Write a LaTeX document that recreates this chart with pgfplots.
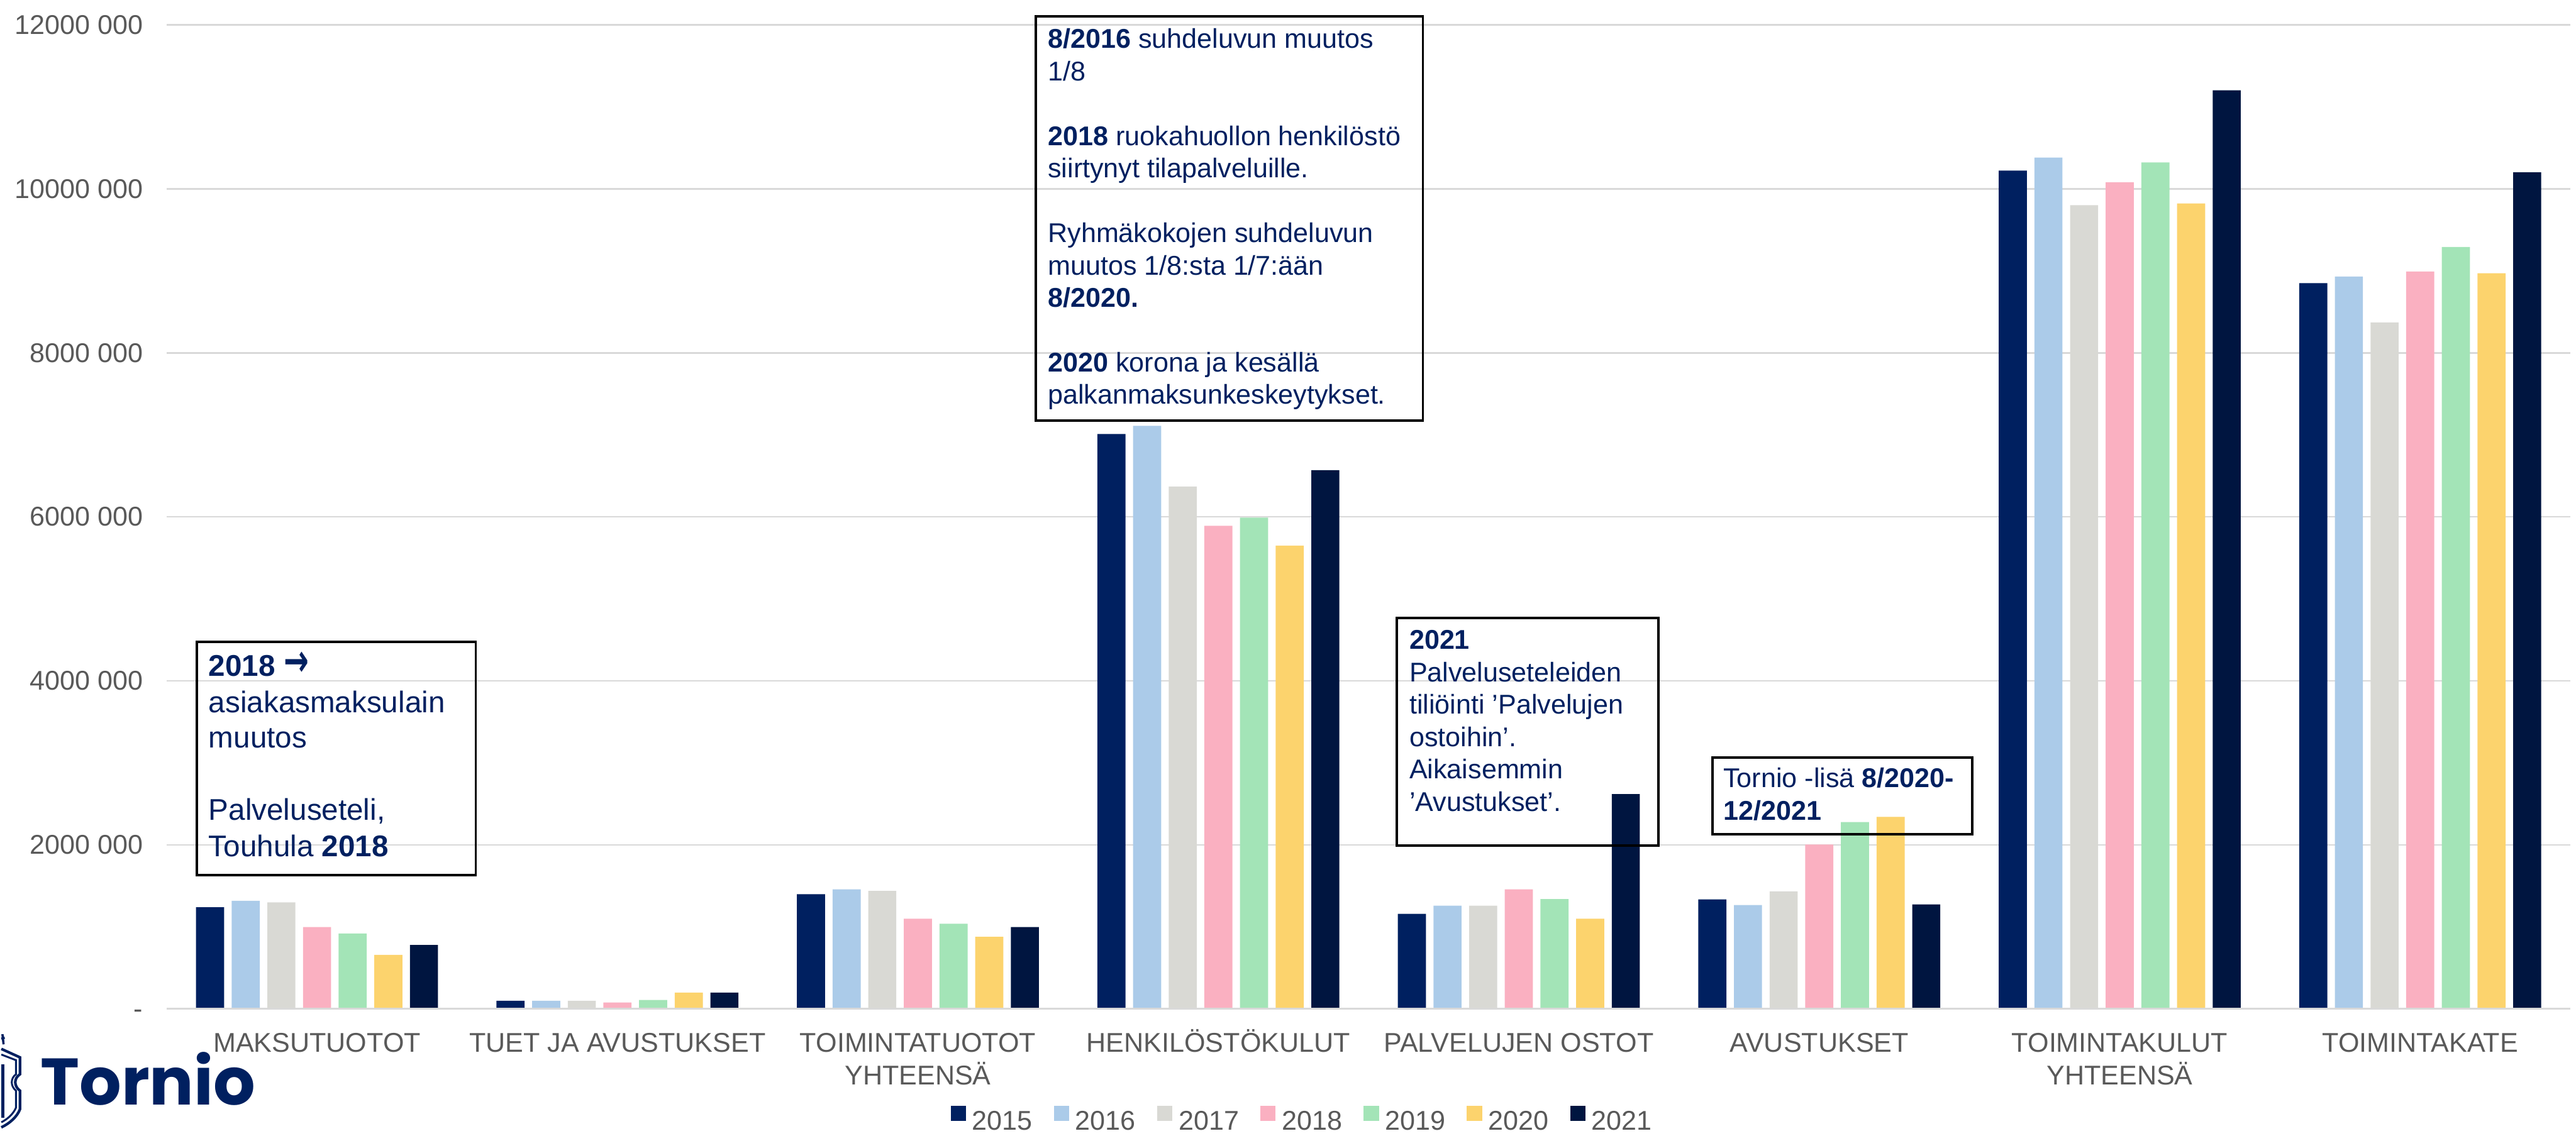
\documentclass[border=0pt]{standalone}
\usepackage{fontspec}
\setmainfont{Liberation Sans}
\newfontfamily\poppins{Poppins}
\newfontfamily\dejavu{DejaVu Sans}
\usepackage{graphicx}
\usepackage{pgfplots}
\pgfplotsset{compat=1.18}

\definecolor{c2015}{RGB}{0,32,96}
\definecolor{c2016}{RGB}{171,203,233}
\definecolor{c2017}{RGB}{217,217,212}
\definecolor{c2018}{RGB}{250,176,193}
\definecolor{c2019}{RGB}{163,228,183}
\definecolor{c2020}{RGB}{252,211,109}
\definecolor{c2021}{RGB}{0,21,64}
\definecolor{navy}{RGB}{0,32,96}
\definecolor{txtgray}{RGB}{89,89,89}
\definecolor{gridgray}{RGB}{217,217,217}

\newcommand\axfont{\fontsize{7.2}{8.7}\selectfont}
\newcommand\boxfont{\fontsize{7.2}{8.6}\selectfont\color{navy}}
\newcommand\boxfontL{\fontsize{7.95}{9.5}\selectfont\color{navy}}

\begin{document}
\begin{tikzpicture}
% picture frame in reference pixels (origin top left)
\begin{scope}[x=0.15pt,y=-0.15pt,shift={(-43.95pt,268.095pt)}]
\useasboundingbox (0,0) rectangle (4559,2009);
\end{scope}

\begin{axis}[
    at={(0,0)}, anchor=south west,
    width=638.4pt, height=261.54pt, scale only axis,
    xmin=-0.5, xmax=7.5, ymin=0, ymax=12000000,
    ybar=2.01pt, bar width=7.46pt,
    axis line style={draw=none},
    major tick length=0pt, tick style={draw=none},
    ymajorgrids, grid style={gridgray, line width=0.45pt},
    scaled y ticks=false,
    xtick={0,1,2,3,4,5,6,7},
    xticklabels={MAKSUTUOTOT, TUET JA AVUSTUKSET, TOIMINTATUOTOT\\YHTEENSÄ,
        HENKIL\smash{Ö}ST\smash{Ö}KULUT, PALVELUJEN OSTOT, AVUSTUKSET,
        TOIMINTAKULUT\\YHTEENSÄ, TOIMINTAKATE},
    xticklabel style={font=\axfont, text=txtgray, align=center, anchor=north,
        inner sep=0pt, yshift=-6.15pt},
    ytick={0,2000000,4000000,6000000,8000000,10000000,12000000},
    yticklabels={\vphantom{0}-, 2000 000, 4000 000, 6000 000, 8000 000, 10000 000, 12000 000},
    yticklabel style={font=\axfont, text=txtgray, anchor=east, inner sep=0pt, xshift=-6.15pt},
    legend columns=-1,
    legend style={at={(0.472,0)}, anchor=center, yshift=-29.65pt, draw=none,
        font=\axfont, text=txtgray, inner sep=0pt, nodes={inner sep=0pt},
        /tikz/every odd column/.append style={column sep=1.65pt},
        /tikz/every even column/.append style={column sep=5.7pt}},
    legend image code/.code={\fill[#1] (0pt,0.55pt) rectangle (4.05pt,4.6pt);},
]
\addplot[fill=c2015, draw=none] coordinates {(0,1240000) (1,100000) (2,1400000) (3,7010000) (4,1160000) (5,1337000) (6,10220000) (7,8850000)};
\addplot[fill=c2016, draw=none] coordinates {(0,1320000) (1,100000) (2,1460000) (3,7110000) (4,1260000) (5,1268000) (6,10380000) (7,8930000)};
\addplot[fill=c2017, draw=none] coordinates {(0,1300000) (1,100000) (2,1440000) (3,6370000) (4,1260000) (5,1434000) (6,9800000) (7,8370000)};
\addplot[fill=c2018, draw=none] coordinates {(0,1000000) (1,80000) (2,1100000) (3,5890000) (4,1460000) (5,2005000) (6,10080000) (7,8990000)};
\addplot[fill=c2019, draw=none] coordinates {(0,920000) (1,110000) (2,1040000) (3,5990000) (4,1340000) (5,2280000) (6,10320000) (7,9290000)};
\addplot[fill=c2020, draw=none] coordinates {(0,660000) (1,200000) (2,880000) (3,5650000) (4,1100000) (5,2342000) (6,9820000) (7,8970000)};
\addplot[fill=c2021, draw=none] coordinates {(0,780000) (1,200000) (2,1000000) (3,6570000) (4,2620000) (5,1276000) (6,11200000) (7,10200000)};
\legend{2015,2016,2017,2018,2019,2020,2021}
\draw[gridgray, line width=0.6pt] (rel axis cs:0,0) -- (rel axis cs:1,0);
\end{axis}

\begin{scope}[x=0.15pt,y=-0.15pt,shift={(-43.95pt,268.095pt)}]
% annotation boxes
\draw[line width=0.6pt] (346,1137) rectangle (840,1550);
\draw[line width=0.6pt] (1832,29) rectangle (2517,745);
\draw[line width=0.6pt] (2471,1095) rectangle (2934,1498);
\draw[line width=0.6pt] (3030,1342) rectangle (3490,1478);

\begin{scope}[every node/.style={anchor=base west, inner sep=0pt}]
\node[font=\boxfontL] at (366,1198) {\textbf{2018 {\dejavu\bfseries\scalebox{1}[1.5]{→}}}};
\node[font=\boxfontL] at (366,1262) {asiakasmaksulain};
\node[font=\boxfontL] at (366,1325) {muutos};
\node[font=\boxfontL] at (366,1453) {Palveluseteli,};
\node[font=\boxfontL] at (366,1517) {Touhula \textbf{2018}};

\node[font=\boxfont] at (1852,85.7) {\textbf{8/2016} suhdeluvun muutos};
\node[font=\boxfont] at (1852,143) {1/8};
\node[font=\boxfont] at (1852,257.6) {\textbf{2018} ruokahuollon henkilöstö};
\node[font=\boxfont] at (1852,314.9) {siirtynyt tilapalveluille.};
\node[font=\boxfont] at (1852,429.5) {Ryhmäkokojen suhdeluvun};
\node[font=\boxfont] at (1852,486.8) {muutos 1/8:sta 1/7:ään};
\node[font=\boxfont] at (1852,544.1) {\textbf{8/2020.}};
\node[font=\boxfont] at (1852,658.7) {\textbf{2020} korona ja kesällä};
\node[font=\boxfont] at (1852,716) {palkanmaksunkeskeytykset.};

\node[font=\boxfont] at (2492,1150) {\textbf{2021}};
\node[font=\boxfont] at (2492,1207.4) {Palveluseteleiden};
\node[font=\boxfont] at (2492,1264.8) {tiliöinti ’Palvelujen};
\node[font=\boxfont] at (2492,1322.2) {ostoihin’.};
\node[font=\boxfont] at (2492,1379.6) {Aikaisemmin};
\node[font=\boxfont] at (2492,1437) {’Avustukset’.};

\node[font=\boxfont] at (3048,1395) {Tornio -lisä \textbf{8/2020-}};
\node[font=\boxfont] at (3048,1453) {\textbf{12/2021}};

% logo
\node[text=navy] at (68,1957) {\fontsize{17.5}{20}\selectfont\poppins\bfseries Tornio};
\end{scope}
\draw[navy, line width=0.7pt] (0,1858) -- (33,1873) -- (33,1903) .. controls (22,1910) and (22,1924) .. (33,1932) -- (33,1965) .. controls (28,1978) and (15,1990) .. (0,1997);
\draw[navy, line width=0.5pt] (0,1868) -- (26,1878) -- (26,1903) .. controls (16,1910) and (16,1924) .. (26,1932) -- (26,1962) .. controls (22,1972) and (12,1982) .. (0,1988);
\draw[navy, line width=0.6pt] (2,1832) -- (4,1850) (0,1840) -- (6,1838);
\fill[navy] (0,1885) rectangle (5,1980);
\end{scope}
\end{tikzpicture}
\end{document}
